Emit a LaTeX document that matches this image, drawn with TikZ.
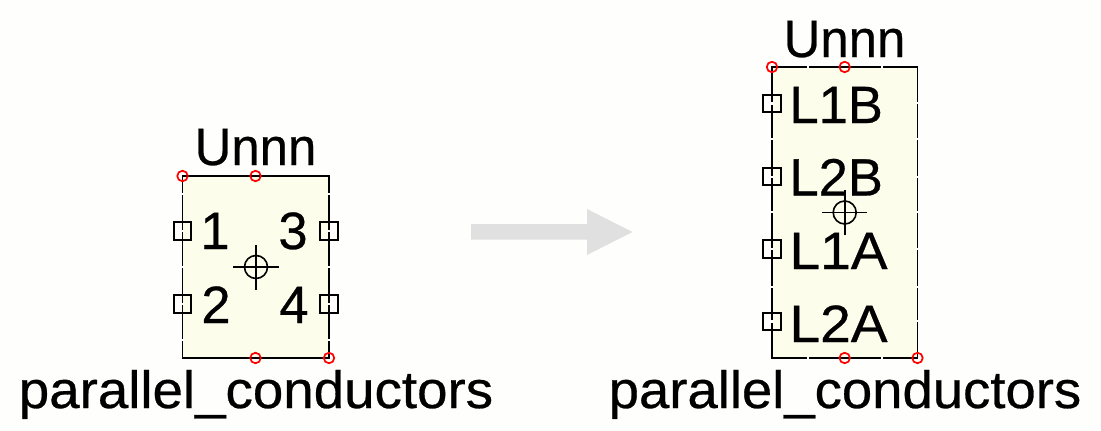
\documentclass[tikz,border=0pt]{standalone}
\usepackage{fontspec}
\setmainfont[FakeBold=0.5]{Liberation Sans}
\definecolor{bodyfill}{HTML}{FDFDEC}
\definecolor{pagebg}{HTML}{FEFEFC}
\tikzset{
  x=1pt,y=-1pt,
  body/.style={draw=black,line width=1.7pt,fill=bodyfill},
  pinbox/.style={draw=black,line width=1.9pt,minimum size=17.5pt,inner sep=0pt,outer sep=0pt},
  anchorpt/.style={circle,draw=red,line width=1.7pt,minimum size=10.5pt,inner sep=0pt},
  cross/.style={draw=black,line width=1.6pt},
  gap/.style={draw=white,line width=2pt},
  lab/.style={anchor=base,inner sep=0pt,outer sep=0pt,font=\fontsize{52.5}{52.5}\selectfont},
  labl/.style={anchor=base west,inner sep=0pt,outer sep=0pt,font=\fontsize{52.5}{52.5}\selectfont},
  arrowshape/.style={fill=black!12,draw=none}
}
\begin{document}
\begin{tikzpicture}
\useasboundingbox[fill=pagebg] (0,0) rectangle (1101,431);
% left symbol
\draw[body] (182.5,176) rectangle (329,358);
\foreach \y in {194,267,340}{
  \draw[gap] (181,\y) -- (184,\y);
  \draw[gap] (327.5,\y) -- (330.5,\y);
}
\node[pinbox] (a1) at (182.5,231) {};
\node[pinbox] (a2) at (182.5,304) {};
\node[pinbox] (a3) at (329,231) {};
\node[pinbox] (a4) at (329,304) {};
\foreach \n in {a1,a2,a3,a4}{\draw[gap] (\n.center) ++(-1.5,0) -- ++(3,0);}
\node[lab] (n1) at (215,249) {1};
\node[lab] (n3) at (293,249) {3};
\node[lab] (n2) at (216,323) {2};
\node[lab] (n4) at (294,323) {4};
\node[circle,cross,minimum size=23pt,inner sep=0pt] (ca) at (256,267) {};
\draw[cross] (233,267) -- (279,267) (256,245) -- (256,290);
\node[anchorpt] (ra1) at (182.5,176) {};
\node[anchorpt] (ra2) at (255.5,176) {};
\node[anchorpt] (ra3) at (255.5,358) {};
\node[anchorpt] (ra4) at (329,358) {};
\node[lab,xscale=0.97] (ua) at (255.5,165) {Unnn};
\node[lab,xscale=1.042] (pa) at (256,408) {parallel\_conductors};
% arrow
\fill[arrowshape] (471,224) -- (587,224) -- (587,209) -- (632.5,232) -- (587,255) -- (587,239.5) -- (471,239.5) -- cycle;
% right symbol
\draw[body] (772,67) rectangle (917.5,358);
\foreach \y in {103,139,177,212,249,287,321}{
  \draw[gap] (770.5,\y) -- (773.5,\y);
  \draw[gap] (916,\y) -- (919,\y);
}
\foreach \x in {807.5,881.5}{
  \draw[gap] (\x,65.5) -- (\x,68.5);
  \draw[gap] (\x,356.5) -- (\x,359.5);
}
\node[pinbox] (b1) at (772,103.5) {};
\node[pinbox] (b2) at (772,176.5) {};
\node[pinbox] (b3) at (772,249) {};
\node[pinbox] (b4) at (772,321.5) {};
\foreach \n in {b1,b2,b3,b4}{\draw[gap] (\n.center) ++(-1.5,0) -- ++(3,0);}
\node[labl] (l1) at (789.5,123) {L1B};
\node[labl] (l2) at (789.5,195.5) {L2B};
\node[labl,xscale=1.05] (l3) at (789.5,269) {L1A};
\node[labl,xscale=1.05] (l4) at (789.5,342) {L2A};
\node[circle,cross,minimum size=23pt,inner sep=0pt] (cb) at (844.7,212.5) {};
\draw[cross] (822,212.5) -- (867,212.5) (844.7,190) -- (844.7,235);
\node[anchorpt] (rb1) at (772,67) {};
\node[anchorpt] (rb2) at (844.7,67) {};
\node[anchorpt] (rb3) at (844.7,358) {};
\node[anchorpt] (rb4) at (917.5,358) {};
\node[lab,xscale=0.97] (ub) at (844.5,57) {Unnn};
\node[lab,xscale=1.038] (pb) at (845,408) {parallel\_conductors};
\end{tikzpicture}
\end{document}
